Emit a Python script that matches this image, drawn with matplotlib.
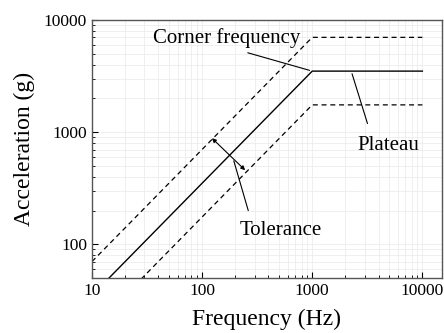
import matplotlib
matplotlib.use("Agg")
import matplotlib.pyplot as plt

plt.rcParams['font.family'] = ['Liberation Serif', 'DejaVu Serif']

# shock spectrum profile
freq = [10, 1000, 10000]
nominal = [35, 3500, 3500]
upper = [70, 7000, 7000]
lower = [17.5, 1750, 1750]

xticks = [10, 100, 1000, 10000]
yticks = [100, 1000, 10000]

fig = plt.figure(figsize=(4.44, 3.33), dpi=100)
ax = fig.add_axes([0.207, 0.165, 0.788, 0.775])

ax.plot(freq, nominal, color='black', lw=1.0)
ax.plot(freq, upper, color='black', lw=0.9, ls=(0, (4, 3)))
ax.plot(freq, lower, color='black', lw=0.9, ls=(0, (4, 3)))

ax.set_xscale('log')
ax.set_yscale('log')
ax.set_xlim(10, 15000)
ax.set_ylim(50, 10000)
ax.set_xticks(xticks)
ax.set_xticklabels([str(t) for t in xticks])
ax.set_yticks(yticks)
ax.set_yticklabels([str(t) for t in yticks])

ax.grid(True, which='both', color='#ececec', lw=0.6)
ax.set_axisbelow(True)
ax.tick_params(which='both', direction='in', labelsize=12.5, top=False, right=False)
ax.tick_params(which='major', length=4)
ax.tick_params(which='minor', length=2)
for s in ax.spines.values():
    s.set_color('#555555')
    s.set_linewidth(1.0)

ax.set_xlabel('Frequency (Hz)', fontsize=17, labelpad=7)
ax.set_ylabel('Acceleration (g)', fontsize=17, labelpad=6.5)

# annotations
ax.annotate('', xy=(1000, 3500), xytext=(246, 5180),
            arrowprops=dict(arrowstyle='-', color='black', lw=0.8))
ax.text(36, 6900, 'Corner frequency', fontsize=15, va='center', ha='left')

ax.annotate('', xy=(3230, 1130), xytext=(2260, 3500),
            arrowprops=dict(arrowstyle='-', color='black', lw=0.8))
ax.text(2570, 765, 'Plateau', fontsize=15, va='center', ha='left')

ax.annotate('', xy=(123, 883), xytext=(246, 458),
            arrowprops=dict(arrowstyle='<|-|>', color='black', lw=0.8,
                            mutation_scale=6, shrinkA=0, shrinkB=0))
ax.annotate('', xy=(267, 189), xytext=(191, 586),
            arrowprops=dict(arrowstyle='-', color='black', lw=0.8))
ax.text(221, 133, 'Tolerance', fontsize=15, va='center', ha='left')

fig.savefig('out.png', dpi=100)
